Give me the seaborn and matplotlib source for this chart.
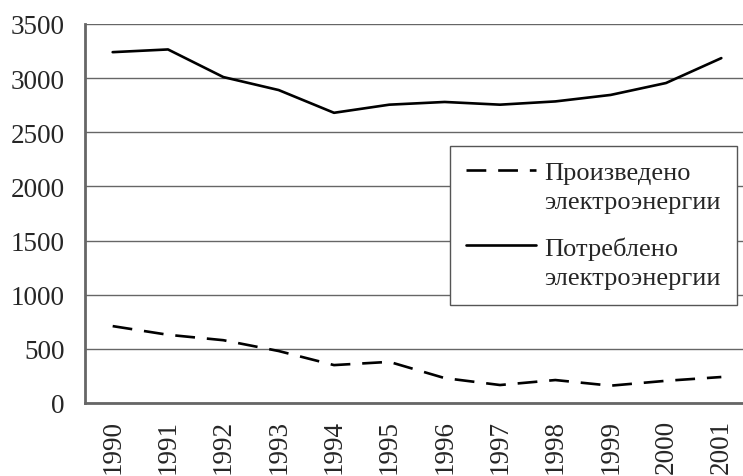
import numpy as np
import pandas as pd
import matplotlib
matplotlib.use("Agg")
import matplotlib.pyplot as plt
import seaborn as sns
from matplotlib.legend_handler import HandlerLine2D

years = ["1990", "1991", "1992", "1993", "1994", "1995",
         "1996", "1997", "1998", "1999", "2000", "2001"]
produced = [710, 630, 580, 480, 350, 380, 230, 166, 212, 160, 205, 240]
consumed = [3240, 3265, 3010, 2890, 2680, 2755, 2780, 2755, 2785, 2845, 2955, 3185]
label_prod = "Произведено\nэлектроэнергии"
label_cons = "Потреблено\nэлектроэнергии"

sns.set_style("white")
plt.rcParams["font.family"] = ["Liberation Serif", "DejaVu Serif"]


class TopLineHandler(HandlerLine2D):
    # put the legend line next to the first text line, not the middle
    def create_artists(self, legend, orig_handle, xdescent, ydescent,
                       width, height, fontsize, trans):
        arts = super().create_artists(legend, orig_handle, xdescent, ydescent,
                                      width, height, fontsize, trans)
        for a in arts:
            a.set_ydata(np.asarray(a.get_ydata()) + 0.62 * fontsize)
        return arts


df = pd.DataFrame({"year": years, "prod": produced, "cons": consumed})

fig = plt.figure(figsize=(7.43, 4.77), dpi=100)
ax = fig.add_axes([85 / 743, 1 - 404 / 477, 664 / 743, 379 / 477])

sns.lineplot(data=df, x="year", y="prod", ax=ax, color="black", lw=1.9,
             label=label_prod, sort=False)
ax.lines[-1].set_dashes((7.5, 4.5))
sns.lineplot(data=df, x="year", y="cons", ax=ax, color="black", lw=1.9,
             label=label_cons, sort=False)

ax.set_xlim(-0.5, 11.5)
ax.set_ylim(0, 3500)
ax.set_yticks(np.arange(0, 3501, 500))
ax.set_xticks(range(len(years)))
ax.set_xticklabels(years, rotation=90, fontsize=19.5)
ax.set_xticks(np.arange(-0.5, 11.6, 1), minor=True)
ax.tick_params(axis="x", which="major", length=0, pad=11.5)
ax.tick_params(axis="x", which="minor", length=6, width=1.2, color="#777777", direction="out")
ax.tick_params(axis="y", length=6, width=1.2, color="#777777", direction="out",
               labelsize=19.5, pad=8.5)
ax.yaxis.grid(True, color="#666666", lw=1)
ax.set_axisbelow(True)
for s in ["top", "right"]:
    ax.spines[s].set_visible(False)
for s in ["left", "bottom"]:
    ax.spines[s].set_color("#666666")
    ax.spines[s].set_linewidth(2)
ax.set_xlabel("")
ax.set_ylabel("")

handles, labels = ax.get_legend_handles_labels()
leg = ax.legend(handles, labels, loc="upper left",
                bbox_to_anchor=(450 / 743, 1 - 147 / 477),
                bbox_transform=fig.transFigure, fontsize=19, frameon=True,
                fancybox=False, edgecolor="#555555", framealpha=1,
                handlelength=2.65, handletextpad=0.33, borderpad=0.6,
                labelspacing=0.9, borderaxespad=0,
                handler_map={h: TopLineHandler() for h in handles})
leg.get_frame().set_linewidth(1)
for t in leg.get_texts():
    t.set_linespacing(1.4)

fig.savefig("out.png", dpi=100)
